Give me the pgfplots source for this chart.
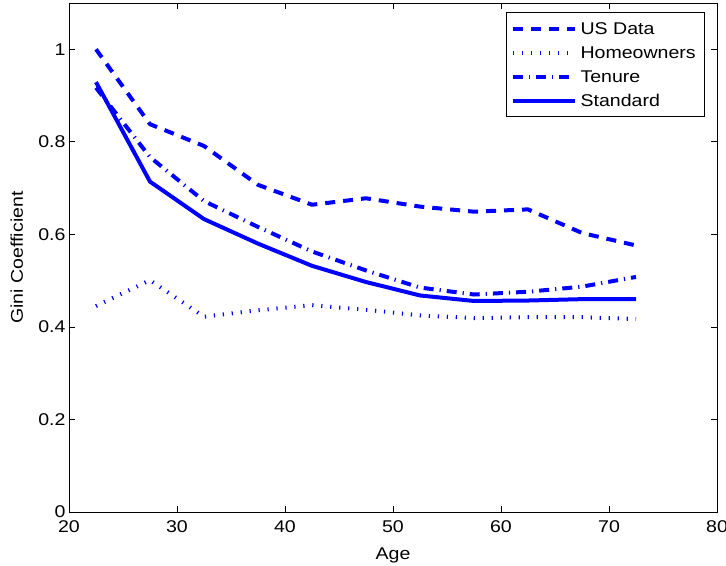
\documentclass[border=0pt]{standalone}
\usepackage{fontspec}
\setmainfont{Liberation Sans}[FakeStretch=1.15]
\usepackage{pgfplots}
\pgfplotsset{compat=1.18}
\usepackage{pgfplotstable}

% Gini coefficient by age group (midpoints of five-year bins)
\pgfplotstableread{
age   us     home   tenure  standard
22.5  1.000  0.445  0.917   0.929
27.5  0.838  0.501  0.767   0.714
32.5  0.791  0.422  0.672   0.633
37.5  0.707  0.436  0.616   0.580
42.5  0.664  0.447  0.563   0.532
47.5  0.678  0.437  0.522   0.497
52.5  0.660  0.425  0.485   0.468
57.5  0.649  0.419  0.470   0.456
62.5  0.654  0.421  0.476   0.457
67.5  0.603  0.421  0.487   0.460
72.5  0.576  0.417  0.508   0.460
}\ginidata

\newcommand{\lbl}{\fontsize{17bp}{20bp}\selectfont}

\begin{document}
\begin{tikzpicture}
\begin{axis}[
  scale only axis,
  width=648bp, height=509bp,
  xmin=20, xmax=80, ymin=0, ymax=1.1,
  xtick={20,30,...,80},
  ytick={0,0.2,0.4,0.6,0.8,1},
  tick pos=both,
  tick align=inside,
  major tick length=6bp,
  axis line style={line width=0.9bp},
  every tick/.style={black, line width=0.7bp},
  /pgf/number format/assume math mode=true,
  ticklabel style={font=\lbl},
  xticklabel style={yshift=-5bp},
  xlabel={Age},
  ylabel={Gini Coefficient},
  xlabel style={font=\lbl, at={(axis description cs:0.5,0)}, anchor=base, yshift=-47bp},
  ylabel style={font=\lbl, at={([xshift=-46bp]axis description cs:0,0.5)}, anchor=base},
  legend style={font=\lbl, at={(axis description cs:0.981,0.982)}, anchor=north east,
    draw=black, line width=0.9bp,
    inner xsep=5bp, inner ysep=4bp, row sep=0pt,
    nodes={inner ysep=0pt, inner xsep=3.5bp, text height=18bp, text depth=6bp}},
  legend cell align=left,
  legend image code/.code={\draw[#1] (0bp,0bp) -- (62bp,0bp);},
  every axis plot/.append style={blue, line width=4bp, line join=round},
]
\addplot[dash pattern=on 10bp off 8bp] table[x=age, y=us] {\ginidata};
\addlegendentry{US Data}
\addplot[dash pattern=on 1.2bp off 7.8bp] table[x=age, y=home] {\ginidata};
\addlegendentry{Homeowners}
\addplot[dash pattern=on 10bp off 6bp on 1.2bp off 6bp] table[x=age, y=tenure] {\ginidata};
\addlegendentry{Tenure}
\addplot[solid] table[x=age, y=standard] {\ginidata};
\addlegendentry{Standard}
\end{axis}
\pgfresetboundingbox
\path[use as bounding box] ([xshift=-69bp,yshift=-54bp]current axis.south west)
  rectangle ([xshift=9bp,yshift=3bp]current axis.north east);
\end{tikzpicture}
\end{document}
